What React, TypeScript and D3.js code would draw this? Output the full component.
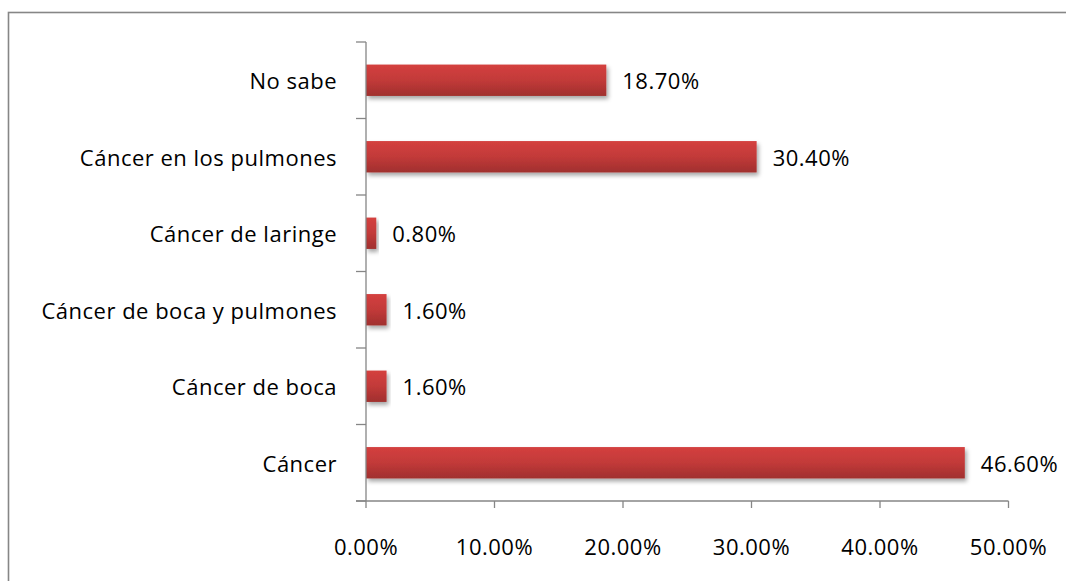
import React from "react";
import * as d3 from "d3";

const categories = [
  "No sabe",
  "Cáncer en los pulmones",
  "Cáncer de laringe",
  "Cáncer de boca y pulmones",
  "Cáncer de boca",
  "Cáncer",
];
const values = [18.7, 30.4, 0.8, 1.6, 1.6, 46.6];
const xTicks = [0, 10, 20, 30, 40, 50];

const W = 1066;
const H = 581;
const FONT = "'Open Sans', sans-serif";
const AXIS = "#868686";
const FS = 22;
const LS = 0.5;

export default function App() {
  const x = d3.scaleLinear().domain([0, 50]).range([366, 1008.5]);
  const y = d3.scaleBand<string>().domain(categories).range([42, 501]).paddingInner(0.59).paddingOuter(0.295);
  const step = y.step();
  const bounds = d3.range(categories.length + 1).map((i) => 42 + i * step);
  const fmt = (v: number) => v.toFixed(2) + "%";

  return (
    <svg
      width={W}
      height={H}
      style={{ position: "absolute", left: 0, top: 0, display: "block", background: "#fff" }}
    >
      <defs>
        <linearGradient id="barGrad" x1="0" y1="0" x2="0" y2="1">
          <stop offset="0" stopColor="#d4403f" />
          <stop offset="0.5" stopColor="#c23a39" />
          <stop offset="1" stopColor="#a02f2e" />
        </linearGradient>
        <filter id="shadow" x="-10%" y="-30%" width="130%" height="180%">
          <feDropShadow dx="2" dy="3" stdDeviation="2.2" floodColor="#000" floodOpacity="0.35" />
        </filter>
      </defs>
      <rect x={8.5} y={12.5} width={W + 10} height={H + 10} fill="#fff" stroke={AXIS} strokeWidth={1.6} />

      {categories.map((c, i) => (
        <rect
          key={c}
          x={x(0)}
          y={y(c)!}
          width={x(values[i]) - x(0)}
          height={y.bandwidth()}
          fill="url(#barGrad)"
          filter="url(#shadow)"
        />
      ))}

      <line x1={366} x2={366} y1={42} y2={501} stroke={AXIS} strokeWidth={1.3} />
      {bounds.map((b, i) => (
        <line key={i} x1={356} x2={366} y1={b} y2={b} stroke={AXIS} strokeWidth={1.3} />
      ))}
      <line x1={356} x2={x(50)} y1={501} y2={501} stroke={AXIS} strokeWidth={1.3} />
      {xTicks.map((t) => (
        <line key={t} x1={x(t)} x2={x(t)} y1={501} y2={508} stroke={AXIS} strokeWidth={1.3} />
      ))}

      {categories.map((c) => (
        <text
          key={c}
          x={337}
          y={y(c)! + y.bandwidth() / 2}
          textAnchor="end"
          dominantBaseline="central"
          fontFamily={FONT}
          fontSize={FS}
          letterSpacing={LS}
          fill="#000"
        >
          {c}
        </text>
      ))}

      {categories.map((c, i) => (
        <text
          key={c}
          x={x(values[i]) + 16}
          y={y(c)! + y.bandwidth() / 2}
          dominantBaseline="central"
          fontFamily={FONT}
          fontSize={FS}
          letterSpacing={LS}
          fill="#000"
        >
          {fmt(values[i])}
        </text>
      ))}

      {xTicks.map((t) => (
        <text
          key={t}
          x={x(t)}
          y={546}
          textAnchor="middle"
          dominantBaseline="central"
          fontFamily={FONT}
          fontSize={FS}
          letterSpacing={LS}
          fill="#000"
        >
          {fmt(t)}
        </text>
      ))}
    </svg>
  );
}
